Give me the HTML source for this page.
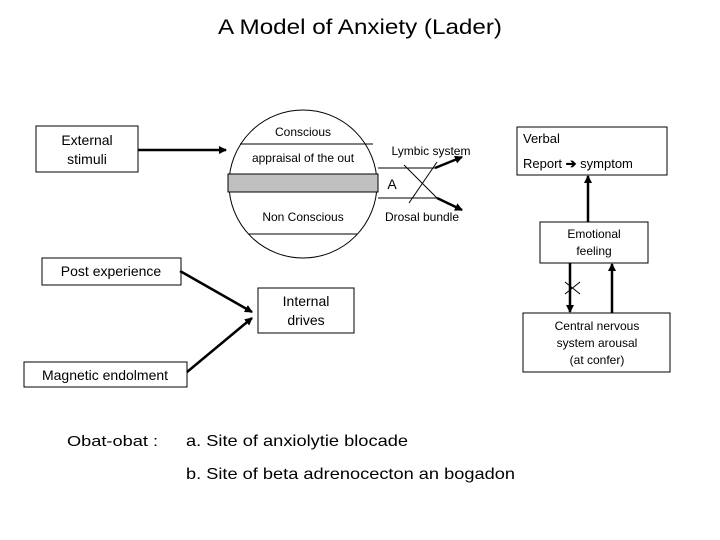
<!DOCTYPE html>
<html><head><meta charset="utf-8"><style>
body{margin:0;background:#fff}
svg{display:block}
text{font-family:"Liberation Sans",Arial,sans-serif;fill:#000}
</style></head><body>
<svg width="720" height="540" viewBox="0 0 720 540">
<defs><marker id="a" markerWidth="8" markerHeight="8" refX="7" refY="4" orient="auto" markerUnits="userSpaceOnUse"><path d="M0,0 L8,4 L0,8 z" fill="#000"/></marker></defs>
<text x="218" y="34" font-size="21" textLength="284" lengthAdjust="spacingAndGlyphs">A Model of Anxiety (Lader)</text>
<g fill="none" stroke="#000" stroke-width="1">
<rect x="36" y="126" width="102" height="46"/>
<rect x="42" y="258" width="139" height="27"/>
<rect x="24" y="362" width="163" height="25"/>
<rect x="258" y="288" width="96" height="45"/>
<rect x="517" y="127" width="150" height="48"/>
<rect x="540" y="222" width="108" height="41"/>
<rect x="523" y="313" width="147" height="59"/>
<circle cx="303" cy="184" r="74"/>
<line x1="240" y1="144" x2="373" y2="144"/>
<line x1="249" y1="234" x2="357" y2="234"/>
<line x1="378" y1="168" x2="435" y2="168"/>
<line x1="378" y1="198" x2="437" y2="198"/>
<line x1="404" y1="165" x2="437" y2="198"/>
<line x1="437" y1="162" x2="409" y2="203"/>
<line x1="565" y1="282" x2="580" y2="294"/>
<line x1="565" y1="294" x2="580" y2="282"/>
</g>
<rect x="228" y="174" width="150" height="18" fill="#c0c0c0" stroke="#000"/>
<g stroke="#000" stroke-width="2.5" fill="none" marker-end="url(#a)">
<line x1="138" y1="150" x2="226" y2="150"/>
<line x1="180" y1="271" x2="252" y2="312"/>
<line x1="187" y1="372" x2="252" y2="318"/>
<line x1="435" y1="168" x2="462" y2="157"/>
<line x1="437" y1="198" x2="462" y2="210"/>
<line x1="588" y1="222" x2="588" y2="176"/>
<line x1="570" y1="263" x2="570" y2="312"/>
<line x1="612" y1="313" x2="612" y2="264"/>
</g>
<g font-size="14" text-anchor="middle">
<text x="87" y="145">External</text><text x="87" y="164">stimuli</text>
<text x="111" y="276">Post experience</text>
<text x="105" y="380">Magnetic endolment</text>
<text x="306" y="306">Internal</text><text x="306" y="325">drives</text>
<text x="392" y="189">A</text>
</g>
<text x="67" y="446" font-size="15" textLength="91" lengthAdjust="spacingAndGlyphs">Obat-obat :</text>
<g font-size="12" text-anchor="middle">
<text x="303" y="136">Conscious</text>
<text x="303" y="162">appraisal of the out</text>
<text x="303" y="221">Non Conscious</text>
<text x="431" y="155">Lymbic system</text>
<text x="422" y="221">Drosal bundle</text>
<text x="594" y="238">Emotional</text><text x="594" y="255">feeling</text>
<text x="597" y="330">Central nervous</text><text x="597" y="347">system arousal</text><text x="597" y="364">(at confer)</text>
</g>
<g font-size="13">
<text x="523" y="143">Verbal</text>
<text x="523" y="168">Report <tspan font-weight="bold">➔</tspan> symptom</text>
</g>
<g font-size="16">
<text x="186" y="446" textLength="222" lengthAdjust="spacingAndGlyphs">a.  Site of anxiolytie blocade</text>
<text x="186" y="479" textLength="329" lengthAdjust="spacingAndGlyphs">b.  Site of beta adrenocecton an bogadon</text>
</g>
</svg>
</body></html>
